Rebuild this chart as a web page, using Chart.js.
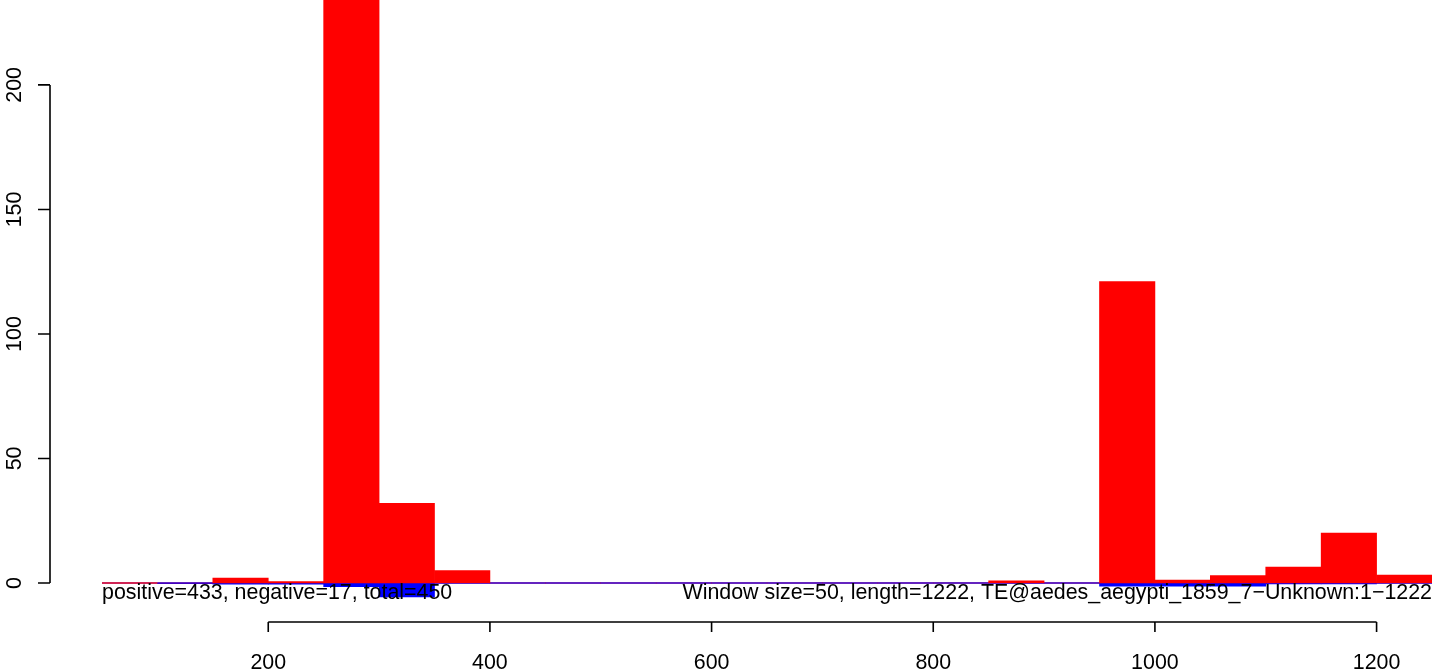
<!DOCTYPE html>
<html>
<head>
<meta charset="utf-8">
<title>TE window coverage</title>
<script src="https://cdn.jsdelivr.net/npm/chart.js@4.4.1/dist/chart.umd.min.js"></script>
<style>
  html, body { margin: 0; padding: 0; background: #fff; }
  #wrap { width: 1449px; height: 672px; }
</style>
</head>
<body>
<div id="wrap"><canvas id="chart" width="1449" height="672"></canvas></div>
<script>
/* ── data: 50bp windows along the TE ── */
const windowStarts = [50, 100, 150, 200, 250, 300, 350, 400, 450, 500, 550, 600,
                      650, 700, 750, 800, 850, 900, 950, 1000, 1050, 1100, 1150, 1200];
const positiveCounts = [0, 0, 2, 0.6, 238, 32, 5, 0, 0, 0, 0, 0,
                        0, 0, 0, 0, 0.9, 0, 121, 1.2, 3, 6.4, 20, 3.2];
const negativeCounts = [0, -0.3, -0.5, -0.5, -1.5, -5.6, 0, 0, 0, 0, 0, 0,
                        0, 0, 0, 0, 0, 0, -1.3, -1.3, -1.3, -0.4, -0.4, 0];
const windowSize = 50;
const xTicks = [200, 400, 600, 800, 1000, 1200];
const yTicks = [0, 50, 100, 150, 200];
const leftNote  = 'positive=433, negative=17, total=450';
const rightNote = 'Window size=50, length=1222, TE@aedes_aegypti_1859_7\u2212Unknown:1\u22121222';

const FONT = '21.4px "Liberation Sans", Arial, Helvetica, sans-serif';

const toPoints = vals => vals.map((v, i) => ({ x: windowStarts[i] + windowSize / 2, y: v }));

/* ── R-style detached axes + notes ── */
const rAxes = {
  id: 'rAxes',
  afterDatasetsDraw(chart) {
    const { ctx, chartArea, scales: { x, y } } = chart;
    ctx.save();
    ctx.strokeStyle = '#000';
    ctx.fillStyle = '#000';
    ctx.lineWidth = 1.6;
    ctx.font = FONT;

    // notes along the zero line
    const ty = y.getPixelForValue(0) + 10;
    ctx.textBaseline = 'middle';
    ctx.textAlign = 'left';
    ctx.fillText(leftNote, x.getPixelForValue(windowStarts[0]), ty);
    ctx.textAlign = 'right';
    ctx.fillText(rightNote, x.getPixelForValue(windowStarts[windowStarts.length - 1] + windowSize), ty);

    // y axis
    const ax = chartArea.left - 52;
    ctx.beginPath();
    ctx.moveTo(ax, y.getPixelForValue(yTicks[0]));
    ctx.lineTo(ax, y.getPixelForValue(yTicks[yTicks.length - 1]));
    yTicks.forEach(v => {
      const py = y.getPixelForValue(v);
      ctx.moveTo(ax - 12, py);
      ctx.lineTo(ax, py);
    });
    ctx.stroke();
    ctx.textAlign = 'center';
    ctx.textBaseline = 'middle';
    yTicks.forEach(v => {
      ctx.save();
      ctx.translate(ax - 35, y.getPixelForValue(v));
      ctx.rotate(-Math.PI / 2);
      ctx.fillText(String(v), 0, 0);
      ctx.restore();
    });

    // x axis
    const ay = chartArea.bottom + 22;
    ctx.beginPath();
    ctx.moveTo(x.getPixelForValue(xTicks[0]), ay);
    ctx.lineTo(x.getPixelForValue(xTicks[xTicks.length - 1]), ay);
    xTicks.forEach(v => {
      const px = x.getPixelForValue(v);
      ctx.moveTo(px, ay);
      ctx.lineTo(px, ay + 10);
    });
    ctx.stroke();
    xTicks.forEach(v => ctx.fillText(String(v), x.getPixelForValue(v), ay + 41));

    ctx.restore();
  }
};

new Chart(document.getElementById('chart'), {
  type: 'bar',
  data: {
    datasets: [
      {
        label: 'positive',
        data: toPoints(positiveCounts),
        backgroundColor: '#ff0000',
        borderWidth: 0,
        grouped: false,
        barPercentage: 1, categoryPercentage: 1,
        order: 0
      },
      {
        label: 'negative',
        data: toPoints(negativeCounts),
        backgroundColor: '#0000ff',
        borderWidth: 0,
        grouped: false,
        barPercentage: 1, categoryPercentage: 1,
        order: 1
      },
      {
        type: 'line',
        label: 'zero-neg',
        data: [{ x: windowStarts[1], y: 0 }, { x: windowStarts[windowStarts.length - 1] + windowSize, y: 0 }],
        borderColor: '#0000ff',
        borderWidth: 1.4,
        pointRadius: 0,
        order: 2
      },
      {
        type: 'line',
        label: 'zero-pos',
        data: [{ x: windowStarts[0], y: 0 }, { x: windowStarts[1], y: 0 }],
        borderColor: '#ff0000',
        borderWidth: 1.4,
        pointRadius: 0,
        order: 2
      }
    ]
  },
  options: {
    responsive: false,
    animation: false,
    devicePixelRatio: 1,
    layout: { padding: { left: 102, right: 17, top: 0, bottom: 72 } },
    plugins: {
      legend: { display: false },
      tooltip: { enabled: false }
    },
    scales: {
      x: {
        type: 'linear',
        min: 50, max: 1250,
        offset: false,
        display: false
      },
      y: {
        min: -6.83, max: 234.1,
        display: false
      }
    }
  },
  plugins: [rAxes]
});
</script>
</body>
</html>
